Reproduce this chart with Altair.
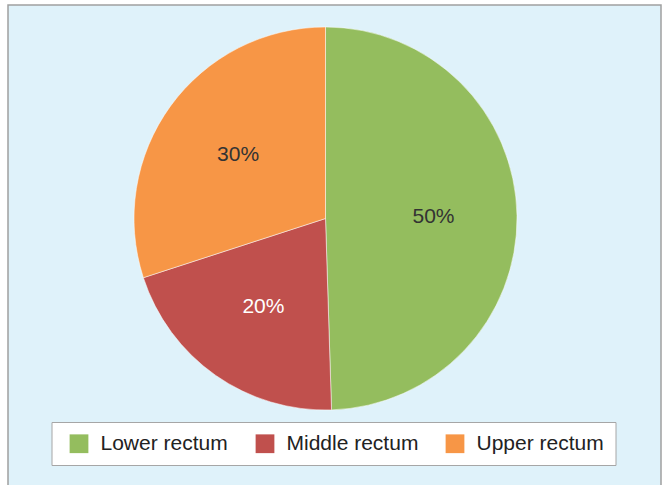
import altair as alt
import pandas as pd

segments = ["Lower rectum", "Middle rectum", "Upper rectum"]
shares = [49.5, 20.5, 30.0]
labels = ["50%", "20%", "30%"]
colors = ["#94bd5e", "#c0504d", "#f79646"]

df = pd.DataFrame({
    "segment": segments,
    "share": shares,
    "label": labels,
    "idx": list(range(len(segments))),
})

FONT = "Liberation Sans"
cx, cy = 317.5, 213.5

base = alt.Chart(df).encode(
    theta=alt.Theta("share:Q", stack=True),
    order=alt.Order("idx:Q"),
)

arcs = base.mark_arc(outerRadius=191.5, stroke="white", strokeWidth=0.5).encode(
    x=alt.value(cx),
    y=alt.value(cy),
    color=alt.Color(
        "segment:N",
        scale=alt.Scale(domain=segments, range=colors),
        legend=alt.Legend(
            orient="none",
            legendX=43.5,
            legendY=417,
            direction="horizontal",
            title=None,
            symbolType="square",
            symbolSize=352,
            symbolStrokeWidth=0,
            symbolOffset=6,
            labelFont=FONT,
            labelFontSize=21,
            labelColor="#222222",
            labelOffset=11,
            columnPadding=20,
            padding=11,
            fillColor="white",
            strokeColor="#a6a6a6",
        ),
    ),
)

texts = base.mark_text(radius=108, fontSize=21, font=FONT).encode(
    x=alt.value(cx),
    y=alt.value(cy),
    text="label:N",
    color=alt.condition(
        alt.datum.segment == "Middle rectum",
        alt.value("white"),
        alt.value("#333333"),
    ),
)

chart = (
    alt.layer(arcs, texts)
    .properties(
        width=653,
        height=485,
        padding={"left": 8, "top": 5, "right": 2, "bottom": 0},
        autosize="none",
        background="white",
    )
    .configure_view(fill="#dff2fa", stroke="#a0a0a0", strokeWidth=1.5)
)

chart.save("out.html", embed_options={"renderer": "svg", "actions": False})
